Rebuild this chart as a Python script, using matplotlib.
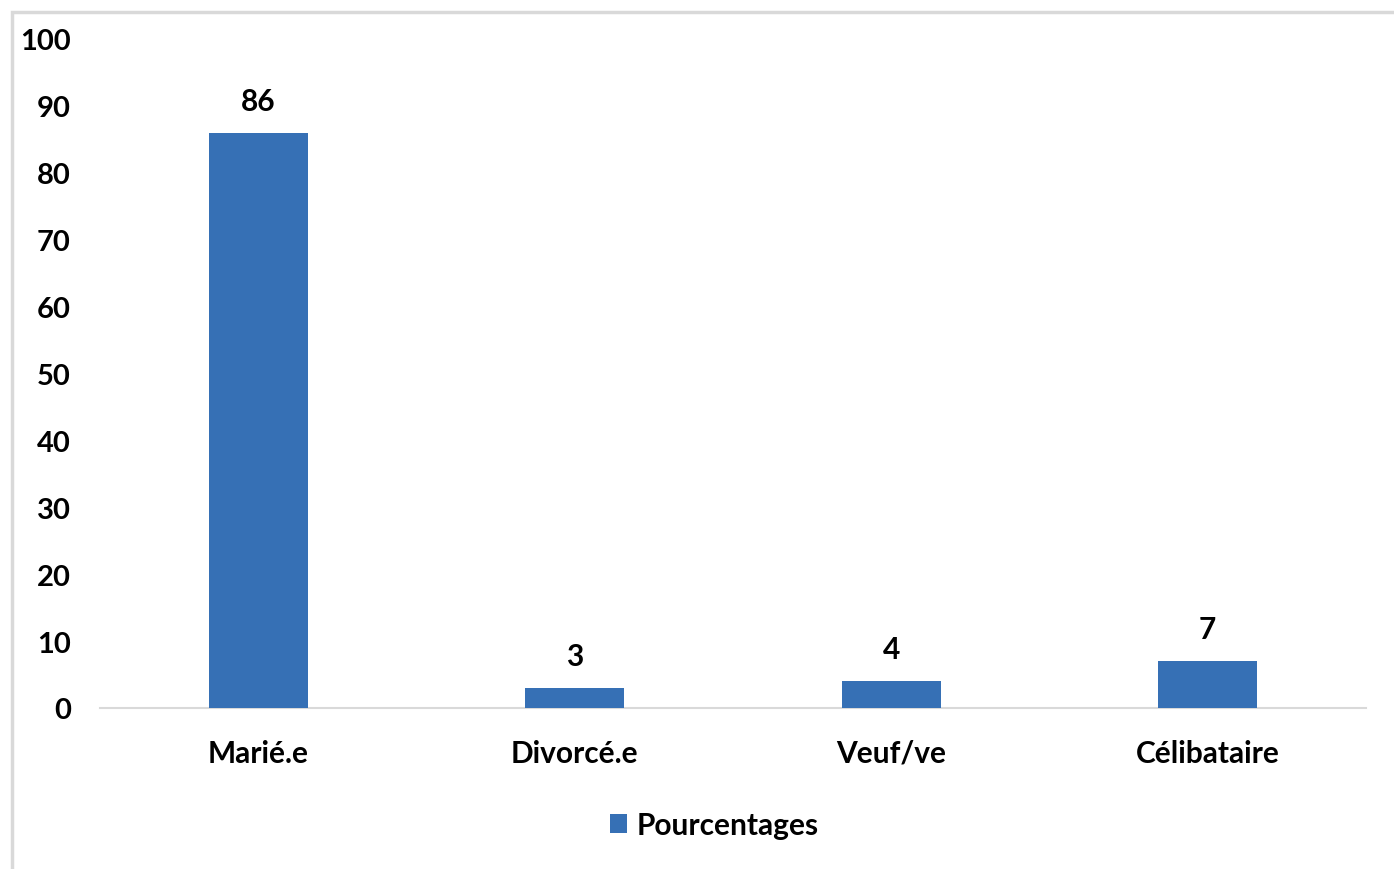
import matplotlib.pyplot as plt
from matplotlib.patches import Rectangle

categories = ['Marié.e', 'Divorcé.e', 'Veuf/ve', 'Célibataire']
pourcentages = [86, 3, 4, 7]
yticks = [0, 10, 20, 30, 40, 50, 60, 70, 80, 90, 100]

plt.rcParams['font.family'] = ['Lato', 'DejaVu Sans']
plt.rcParams['font.weight'] = 'bold'

bar_color = '#3670b5'
grey = '#d9d9d9'
fs = 21.5

fig = plt.figure(figsize=(13.94, 8.70), dpi=100)
ax = fig.add_axes([100 / 1394, 161 / 870, 1266 / 1394, 669 / 870])

x = range(len(categories))
bars = ax.bar(x, pourcentages, width=0.313, color=bar_color, label='Pourcentages', zorder=3)

for b, v in zip(bars, pourcentages):
    ax.annotate(str(v), (b.get_x() + b.get_width() / 2, v), xytext=(0, 23),
                textcoords='offset points', ha='center', va='center',
                fontsize=fs, fontweight='bold', color='black')

ax.set_xlim(-0.5, 3.5)
ax.set_ylim(0, 100)
ax.set_yticks(yticks)
ax.set_xticks(list(x))
ax.set_xticklabels(categories, fontsize=fs, fontweight='bold')
ax.tick_params(axis='y', labelsize=21, length=0, pad=21)
ax.tick_params(axis='x', length=0, pad=22)

for s in ['top', 'right', 'left']:
    ax.spines[s].set_visible(False)
ax.spines['bottom'].set_color(grey)
ax.spines['bottom'].set_linewidth(1.5)

# cadre du graphique (bords haut et gauche visibles)
fig.add_artist(Rectangle((11.5 / 1394, -0.05), 1.2, 1.05 - 12.5 / 870, transform=fig.transFigure,
                         fill=False, edgecolor=grey, linewidth=2.5))

fig.legend(loc='center', bbox_to_anchor=(714 / 1394, 1 - 826 / 870), frameon=False,
           handlelength=0.6, handleheight=0.6, handletextpad=0.3,
           prop={'weight': 'bold', 'size': fs})

fig.savefig('out.png', dpi=100, facecolor='white')
